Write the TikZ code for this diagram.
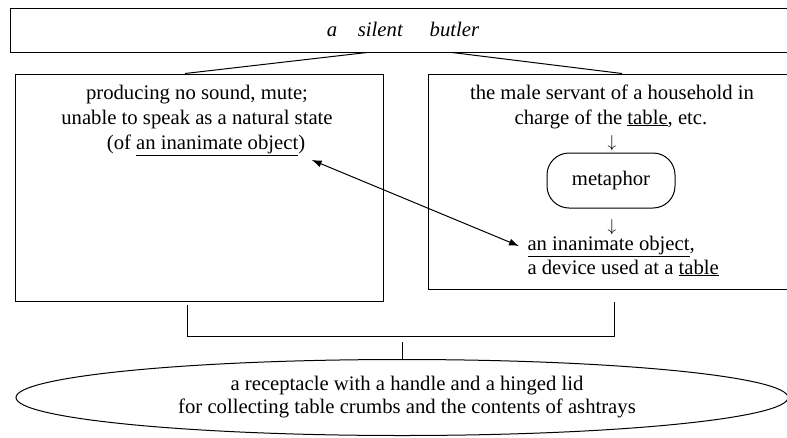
\documentclass[tikz,border=0pt]{standalone}
\usepackage{fontspec}
\setmainfont{Liberation Serif}
\usepackage{tikz}
\usetikzlibrary{arrows.meta,shapes.geometric}
\tikzset{
x=1pt, y=-1pt, % one unit per pixel, y runs downwards
box/.style={draw, line width=1pt, inner sep=0pt}, % frames without text
txt/.style={inner sep=0pt, anchor=base}, % one line of text, placed at its baseline
down/.style={inner sep=0pt, font=\fontsize{18}{18}\selectfont}, % small down arrow between lines
head/.tip={Latex[length=10pt,width=7pt]}, % filled arrow head
}

\begin{document}
\begin{tikzpicture}[line width=1pt, font=\fontsize{20.7}{25}\selectfont]
		\useasboundingbox (0,0) rectangle (787,437);
		% title
		\node[box, minimum width=780pt, minimum height=44pt] (top) at (400,30) {};
		\node[txt] (title) at (403,36) {\itshape a\hspace{1em}silent\hspace{1.3em}butler};
		% the two senses
		\node[box, minimum width=368pt, minimum height=227pt] (lbox) at (199,187.5) {};
		\node[box, minimum width=364pt, minimum height=215pt] (rbox) at (610,181.5) {};
		\draw ([xshift=-33pt]top.south) -- ([xshift=-14pt]lbox.north);
		\draw ([xshift=52pt]top.south) -- ([xshift=12pt]rbox.north);
		% left sense
		\node[txt] (l1) at (197,99) {producing no sound, mute;};
		\node[txt] (l2) at (197,124) {unable to speak as a natural state};
		\node[txt] (objL) at (206,149) {(of \underline{an inanimate object})};
		% right sense
		\node[txt] (r1) at (612,99) {the male servant of a household in};
		\node[txt] (r2) at (611,124) {charge of the \underline{table}, etc.};
		\node[down] (d1) at (612,143) {$\downarrow$};
		\node[box, rounded corners=22pt, minimum width=128pt, minimum height=55pt] (meta) at (611,180.5) {};
		\node[inner sep=0pt] at (meta) {metaphor};
		\node[down] (d2) at (612,227) {$\downarrow$};
		\node[txt, anchor=base west] (objR) at (527,250) {\underline{an inanimate object},};
		\node[txt, anchor=base west] (dev) at (527,274) {a device used at a \underline{table}};
		\draw[head-head] ([shift={(6pt,-4pt)}]objL.south east) -- ([xshift=-8pt]objR.west);
		% result
		\coordinate (bl1) at (187,305);
		\coordinate (bl2) at (187,336);
		\coordinate (br2) at (614,336);
		\coordinate (br1) at (614,302);
		\coordinate (bm) at (402,342);
		\draw (bl1) -- (bl2) -- (br2) -- (br1);
		\node[ellipse, draw, inner sep=0pt, minimum width=772pt, minimum height=76pt] (bot) at (402,397.5) {};
		\draw (bm) -- (bot.north);
		\node[txt] (b1) at (407,390) {a receptacle with a handle and a hinged lid};
		\node[txt] (b2) at (407,413) {for collecting table crumbs and the contents of ashtrays};
	\end{tikzpicture}
\end{document}
